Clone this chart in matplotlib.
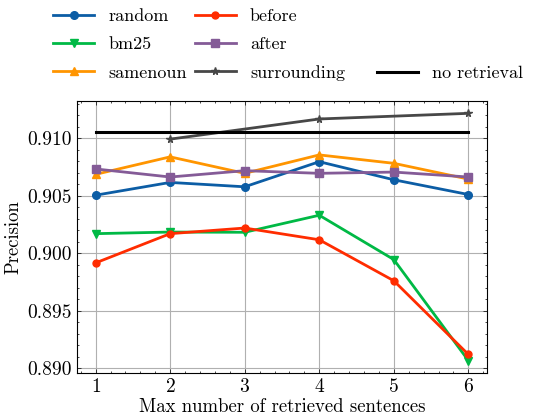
import matplotlib
matplotlib.use("Agg")
import matplotlib.pyplot as plt
from matplotlib.ticker import AutoMinorLocator, FormatStrFormatter

plt.rcParams.update({
    "font.family": "cmr10",
    "mathtext.fontset": "cm",
    "axes.formatter.use_mathtext": True,
    "font.size": 14,
    "axes.labelsize": 13.5,
    "legend.fontsize": 13,
    "xtick.direction": "in",
    "ytick.direction": "in",
    "xtick.top": True,
    "ytick.right": True,
    "xtick.major.size": 3,
    "ytick.major.size": 3,
    "xtick.minor.size": 1.5,
    "ytick.minor.size": 1.5,
    "xtick.major.width": 0.5,
    "ytick.major.width": 0.5,
    "xtick.minor.width": 0.5,
    "ytick.minor.width": 0.5,
    "axes.linewidth": 0.8,
})

# Data
n_sent = [1, 2, 3, 4, 5, 6]
random_p = [0.90504, 0.90615, 0.90577, 0.90795, 0.90638, 0.90510]
bm25_p = [0.90170, 0.90184, 0.90182, 0.90330, 0.89945, 0.89068]
samenoun_p = [0.90685, 0.90837, 0.90694, 0.90854, 0.90781, 0.90644]
before_p = [0.89916, 0.90170, 0.90219, 0.90117, 0.89761, 0.89121]
after_p = [0.90732, 0.90662, 0.90717, 0.90694, 0.90705, 0.90662]
surr_sent = [2, 4, 6]
surrounding_p = [0.90991, 0.91166, 0.91215]
no_retrieval = 0.91055

fig = plt.figure(figsize=(5.42, 4.19), dpi=100)
ax = fig.add_axes([0.142, 0.110, 0.7565, 0.649])

lw = 2
ms = 5.5
l_random, = ax.plot(n_sent, random_p, marker="o", color="#0C5DA5", lw=lw, ms=ms, label="random")
l_bm25, = ax.plot(n_sent, bm25_p, marker="v", color="#00B945", lw=lw, ms=ms, label="bm25")
l_same, = ax.plot(n_sent, samenoun_p, marker="^", color="#FF9500", lw=lw, ms=ms, label="samenoun")
l_before, = ax.plot(n_sent, before_p, marker="o", color="#FF2C00", lw=lw, ms=ms - 0.5, label="before")
l_after, = ax.plot(n_sent, after_p, marker="s", color="#845B97", lw=lw, ms=ms, label="after")
l_surr, = ax.plot(surr_sent, surrounding_p, marker="*", color="#474747", lw=lw, ms=ms, label="surrounding")
l_none, = ax.plot(n_sent, [no_retrieval] * len(n_sent), color="black", lw=2.2, label="no retrieval")

ax.xaxis.set_minor_locator(AutoMinorLocator(5))
ax.yaxis.set_minor_locator(AutoMinorLocator(5))
ax.yaxis.set_major_formatter(FormatStrFormatter("%.3f"))
ax.grid(True, color="#b0b0b0", lw=0.8)
ax.set_axisbelow(True)

ax.set_xlabel("Max number of retrieved sentences", labelpad=2)
ax.set_ylabel("Precision", labelpad=4)

leg_kw = dict(frameon=False, handlelength=2.27, labelspacing=0.69, handletextpad=0.78)
fig.legend([l_random, l_bm25, l_same, l_before, l_after, l_surr],
           ["random", "bm25", "samenoun", "before", "after", "surrounding"],
           ncol=2, loc="upper left", bbox_to_anchor=(0.068, 1.018),
           columnspacing=0.45, **leg_kw)
fig.legend([l_none], ["no retrieval"], loc="upper left",
           bbox_to_anchor=(0.665, 0.882), **leg_kw)

fig.savefig("out.png", dpi=100)
